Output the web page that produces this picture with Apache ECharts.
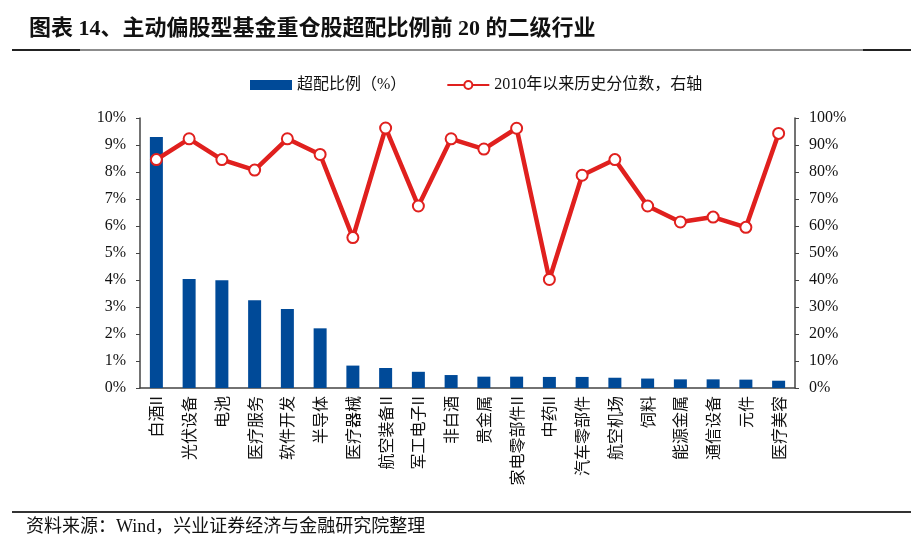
<!DOCTYPE html>
<html><head><meta charset="utf-8">
<script src="https://cdn.jsdelivr.net/npm/echarts@6/dist/echarts.min.js"></script>
<style>html,body{margin:0;padding:0;background:#fff}#c{width:911px;height:551px}</style>
</head><body><div id="c"></div>
<script>
const categories = ['白酒II','光伏设备','电池','医疗服务','软件开发','半导体','医疗器械','航空装备II','军工电子II','非白酒','贵金属','家电零部件II','中药II','汽车零部件','航空机场','饲料','能源金属','通信设备','元件','医疗美容'];
const overweight = [9.3,4.04,3.99,3.25,2.93,2.21,0.83,0.74,0.60,0.48,0.42,0.42,0.41,0.41,0.38,0.35,0.32,0.32,0.31,0.27];
const percentile = [84.6,92.3,84.6,80.7,92.3,86.5,55.7,96.3,67.4,92.3,88.5,96.2,40.2,78.8,84.6,67.4,61.5,63.3,59.5,94.3];
const leftTicks = [0,1,2,3,4,5,6,7,8,9,10];
const rightTicks = [0,10,20,30,40,50,60,70,80,90,100];

const serif = '"Liberation Serif","Noto Sans CJK SC"';
const chart = echarts.init(document.getElementById('c'));
chart.setOption({
  animation:false,
  backgroundColor:'#fff',
  title:{text:'图表 14、主动偏股型基金重仓股超配比例前 20 的二级行业',left:24,top:13,
    textStyle:{fontFamily:serif,fontWeight:'bold',fontSize:22,color:'#111'}},
  graphic:[
    {type:'line',shape:{x1:12,y1:50,x2:911,y2:50},style:{stroke:'#666',lineWidth:1.5}},
    {type:'line',shape:{x1:12,y1:50,x2:80,y2:50},style:{stroke:'#222',lineWidth:2}},
    {type:'line',shape:{x1:863,y1:50,x2:911,y2:50},style:{stroke:'#222',lineWidth:2}},
    {type:'line',shape:{x1:12,y1:512,x2:911,y2:512},style:{stroke:'#333',lineWidth:2}},
    {type:'text',left:26,top:518,style:{text:'资料来源：Wind，兴业证券经济与金融研究院整理',font:'18px "Liberation Serif","Noto Sans CJK SC"',fill:'#111'}}
  ],
  legend:{left:245,top:72,itemGap:40,itemWidth:42,itemHeight:10,
    textStyle:{fontFamily:serif,fontSize:16,color:'#111'},
    data:[{name:'超配比例（%）',icon:'rect'},{name:'2010年以来历史分位数，右轴'}]},
  grid:{left:140,right:116,top:118,bottom:163},
  xAxis:{type:'category',data:categories,
    axisLine:{lineStyle:{color:'#444',width:1.5}},axisTick:{show:false},
    axisLabel:{rotate:90,interval:0,fontFamily:'"Noto Sans CJK SC"',fontSize:16,color:'#111',margin:8}},
  yAxis:[
    {type:'value',min:0,max:10,interval:1,splitLine:{show:false},
      axisLine:{show:true,lineStyle:{color:'#444',width:1.5}},axisTick:{show:true,length:4,lineStyle:{color:'#444'}},
      axisLabel:{formatter:v=>v+'%',fontFamily:serif,fontSize:16,color:'#111',margin:14}},
    {type:'value',min:0,max:100,interval:10,splitLine:{show:false},
      axisLine:{show:true,lineStyle:{color:'#444',width:1.5}},axisTick:{show:true,length:4,lineStyle:{color:'#444'}},
      axisLabel:{formatter:v=>v+'%',fontFamily:serif,fontSize:16,color:'#111',margin:14}}
  ],
  series:[
    {name:'超配比例（%）',type:'bar',data:overweight,barWidth:13,itemStyle:{color:'#004a98'},z:2},
    {name:'2010年以来历史分位数，右轴',type:'line',yAxisIndex:1,data:percentile,
      symbol:'circle',symbolSize:11,showAllSymbol:true,
      lineStyle:{color:'#e0201e',width:4.5},
      itemStyle:{color:'#fff',borderColor:'#e0201e',borderWidth:2},z:3}
  ]
});
</script></body></html>
